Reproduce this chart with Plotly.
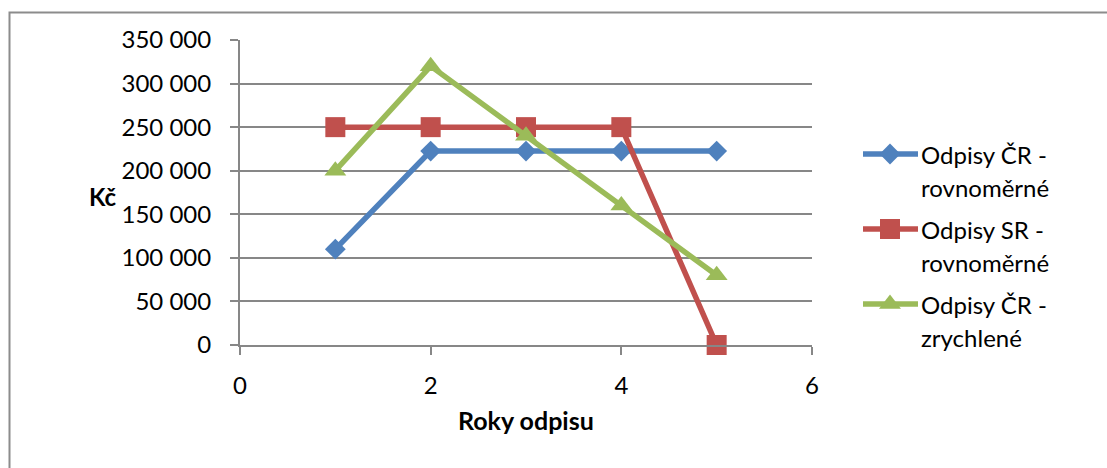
import plotly.graph_objects as go

# Depreciation schedule data (Kč per year)
years = [1, 2, 3, 4, 5]
series_names = ["Odpisy ČR - rovnoměrné", "Odpisy SR - rovnoměrné", "Odpisy ČR - zrychlené"]
odpisy_cr_rovnomerne = [110000, 222500, 222500, 222500, 222500]
odpisy_sr_rovnomerne = [250000, 250000, 250000, 250000, 0]
odpisy_cr_zrychlene = [200000, 320000, 240000, 160000, 80000]
x_ticks = [0, 2, 4, 6]
y_ticks = [0, 50000, 100000, 150000, 200000, 250000, 300000, 350000]

W, H = 1107, 468
FONT = "Lato, 'Open Sans', sans-serif"
GRID = "#878787"

colors = ["#4F81BD", "#C0504D", "#9BBB59"]
symbols = ["diamond", "square", "triangle-up"]
sizes = [16, 20, 19]
values = [odpisy_cr_rovnomerne, odpisy_sr_rovnomerne, odpisy_cr_zrychlene]

fig = go.Figure()
for name, vals, c, sym, sz in zip(series_names, values, colors, symbols, sizes):
    fig.add_trace(go.Scatter(
        x=years, y=vals, name=name, mode="lines+markers",
        line=dict(color=c, width=5.5),
        marker=dict(symbol=sym, size=sz, color=c, line=dict(width=0)),
        cliponaxis=False,
        showlegend=False, xaxis="x", yaxis="y",
    ))

# Hand-placed legend drawn on a pixel-scaled overlay axis
leg_x0, leg_xm, leg_x1, leg_tx = 863, 890, 918, 919
leg_y0, leg_step, line_gap = 154, 75, 33
annotations = []
for i, (name, c, sym, sz) in enumerate(zip(series_names, colors, symbols, sizes)):
    yy = leg_y0 + i * leg_step
    fig.add_trace(go.Scatter(
        x=[leg_x0, leg_x1], y=[yy, yy], mode="lines",
        line=dict(color=c, width=5.5),
        showlegend=False, hoverinfo="skip", xaxis="x2", yaxis="y2",
    ))
    fig.add_trace(go.Scatter(
        x=[leg_xm], y=[yy], mode="markers",
        marker=dict(symbol=sym, size=sz, color=c, line=dict(width=0)),
        showlegend=False, hoverinfo="skip", xaxis="x2", yaxis="y2",
    ))
    first, second = name.split(" - ")
    for j, txt in enumerate([first + " -", second]):
        annotations.append(dict(
            x=leg_tx, y=yy + j * line_gap, xref="x2", yref="y2",
            text=txt, showarrow=False, xanchor="left", yanchor="middle",
            font=dict(family=FONT, size=24, color="#000000"),
        ))

# Axis titles
annotations.append(dict(x=103 / W, y=1 - 196 / H, xref="paper", yref="paper",
                        text="<b>Kč</b>", showarrow=False, xanchor="center", yanchor="middle",
                        font=dict(family=FONT, size=24, color="#000000")))
annotations.append(dict(x=526 / W, y=1 - 420 / H, xref="paper", yref="paper",
                        text="<b>Roky odpisu</b>", showarrow=False, xanchor="center", yanchor="middle",
                        font=dict(family=FONT, size=25, color="#000000")))

fig.update_layout(
    template="none",
    width=W, height=H, autosize=False,
    margin=dict(l=0, r=0, t=0, b=0, pad=0),
    paper_bgcolor="white", plot_bgcolor="rgba(0,0,0,0)",
    separators=", ",
    font=dict(family=FONT, size=24, color="#000000"),
    xaxis=dict(
        domain=[240 / W, 812 / W], range=[0, 6], tickvals=x_ticks, anchor="y",
        automargin=False,
        showgrid=False, zeroline=False, showline=True, linecolor=GRID, linewidth=2,
        ticks="outside", ticklen=8, tickwidth=2, tickcolor=GRID,
        ticklabelstandoff=10, tickfont=dict(family=FONT, size=24),
    ),
    yaxis=dict(
        domain=[123 / H, 428 / H], range=[0, 350000], tickvals=y_ticks, anchor="x",
        tickformat=",d", automargin=False,
        showgrid=True, gridcolor=GRID, gridwidth=2, zeroline=False,
        showline=True, linecolor=GRID, linewidth=2,
        ticks="outside", ticklen=8, tickwidth=2, tickcolor=GRID,
        ticklabelstandoff=14, tickfont=dict(family=FONT, size=24),
    ),
    xaxis2=dict(domain=[0, 1], range=[0, W], visible=False, fixedrange=True,
                anchor="y2", automargin=False),
    yaxis2=dict(domain=[0, 1], range=[H, 0], visible=False, fixedrange=True,
                anchor="x2", automargin=False),
    annotations=annotations,
    shapes=[dict(type="path", xref="paper", yref="paper",
                 path=f"M {9.5 / W},0 L {9.5 / W},{1 - 12.5 / H} L 1,{1 - 12.5 / H}",
                 line=dict(color="#8C8C8C", width=2))],
)

fig.write_html("out.html", config={"displayModeBar": False})
